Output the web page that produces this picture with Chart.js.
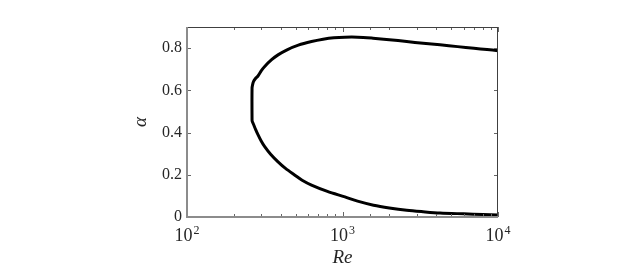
<!DOCTYPE html>
<html lang="en">
<head>
<meta charset="UTF-8">
<title>Neutral curve</title>
<script src="https://cdn.jsdelivr.net/npm/chart.js"></script>
<style>
  body { margin: 0; background: #fff; }
  #wrap { width: 623px; height: 271px; }
</style>
</head>
<body>
<div id="wrap"><canvas id="curveChart"></canvas></div>
<script>
// neutral curve, traced from the lower branch (right end) round the nose and back along the upper branch
const reValues = [10000, 8000, 6000, 4236, 3300, 2588, 2000, 1583, 1250, 1036, 800, 632, 550, 494, 430, 385, 345, 316, 300, 286, 276, 268, 263, 262,
                  262, 264, 268, 275, 286, 300, 316, 350, 385, 440, 520, 632, 750, 880, 1036, 1250, 1570, 2000, 2588, 3300, 4236, 5500, 7000, 8500, 10000];
const alphaValues = [0.010, 0.012, 0.015, 0.019, 0.025, 0.032, 0.043, 0.056, 0.075, 0.095, 0.121, 0.151, 0.174, 0.198, 0.230, 0.261, 0.297, 0.333, 0.360, 0.390, 0.415, 0.438, 0.452, 0.459,
                     0.610, 0.626, 0.642, 0.655, 0.668, 0.692, 0.713, 0.745, 0.768, 0.792, 0.814, 0.831, 0.842, 0.849, 0.852, 0.852, 0.847, 0.840, 0.831, 0.823, 0.816, 0.807, 0.799, 0.793, 0.788];

const xTickValues = [100, 1000, 10000];
const xTickBase = '10';
const xTickExponents = ['2', '3', '4'];
const yTickValues = [0, 0.2, 0.4, 0.6, 0.8];
const yTickLabels = ['0', '0.2', '0.4', '0.6', '0.8'];

const textColor = '#262626';
const serif = 'Liberation Serif';

// inward tick marks, the axes box and the 10^n labels
const framePlugin = {
    id: 'frame',
    afterDraw(chart) {
        const { ctx, chartArea: a, scales: { x, y } } = chart;
        ctx.save();
        ctx.lineWidth = 1;
        ctx.strokeStyle = '#666';
        const seg = (x1, y1, x2, y2) => {
            ctx.beginPath(); ctx.moveTo(x1, y1); ctx.lineTo(x2, y2); ctx.stroke();
        };
        x.ticks.forEach(t => {
            const px = Math.round(x.getPixelForValue(t.value)) + 0.5;
            const len = xTickValues.includes(t.value) ? 5 : 3;
            seg(px, a.bottom, px, a.bottom - len);
            seg(px, a.top, px, a.top + len);
        });
        y.ticks.forEach(t => {
            const py = Math.round(y.getPixelForValue(t.value)) + 0.5;
            seg(a.left, py, a.left + 4, py);
            seg(a.right, py, a.right - 4, py);
        });
        ctx.strokeStyle = '#404040';
        seg(a.left, a.top + 0.5, a.right, a.top + 0.5);
        seg(a.right - 0.5, a.top, a.right - 0.5, a.bottom);
        ctx.strokeStyle = '#8c8c8c';
        ctx.lineWidth = 2;
        seg(a.left, a.top, a.left, a.bottom + 1);
        seg(a.left - 1, a.bottom, a.right, a.bottom);

        // x tick labels with a raised exponent
        ctx.fillStyle = textColor;
        ctx.textBaseline = 'alphabetic';
        ctx.textAlign = 'left';
        xTickValues.forEach((v, i) => {
            const px = x.getPixelForValue(v);
            ctx.font = `18px "${serif}"`;
            const wb = ctx.measureText(xTickBase).width;
            ctx.font = `12px "${serif}"`;
            const we = ctx.measureText(xTickExponents[i]).width;
            const left = px - (wb + we + 1) / 2;
            ctx.font = `18px "${serif}"`;
            ctx.fillText(xTickBase, left, a.bottom + 24);
            ctx.font = `12px "${serif}"`;
            ctx.fillText(xTickExponents[i], left + wb + 1, a.bottom + 17);
        });
        ctx.restore();
    }
};

const ctx = document.getElementById('curveChart').getContext('2d');
const curveChart = new Chart(ctx, {
    type: 'scatter',
    data: {
        datasets: [{
            data: reValues.map((re, i) => ({ x: re, y: alphaValues[i] })),
            showLine: true,
            borderColor: '#000',
            borderWidth: 3,
            pointRadius: 0,
            tension: 0.3
        }]
    },
    options: {
        responsive: true,
        maintainAspectRatio: false,
        animation: false,
        devicePixelRatio: 1,
        layout: { padding: { left: 128, right: 125, top: 27, bottom: 0 } },
        plugins: { legend: { display: false }, tooltip: { enabled: false } },
        scales: {
            x: {
                type: 'logarithmic',
                min: 100,
                max: 10000,
                grid: { display: false, drawTicks: false },
                border: { display: false },
                afterFit: s => { s.height = 54; },
                ticks: {
                    autoSkip: false,
                    maxRotation: 0,
                    padding: 8,
                    font: { family: serif, size: 16 },
                    callback: () => ''
                },
                title: {
                    display: true,
                    text: 'Re',
                    color: textColor,
                    font: { family: serif, size: 19, style: 'italic' },
                    padding: { top: 0, bottom: 2 }
                }
            },
            y: {
                min: 0,
                max: 0.9,
                grid: { display: false, drawTicks: false },
                border: { display: false },
                afterFit: s => { s.width = 59; },
                ticks: {
                    stepSize: 0.2,
                    includeBounds: false,
                    padding: 5,
                    color: textColor,
                    font: { family: serif, size: 16 },
                    callback: v => {
                        const i = yTickValues.findIndex(t => Math.abs(t - v) < 1e-6);
                        return i >= 0 ? yTickLabels[i] : '';
                    }
                },
                title: {
                    display: true,
                    text: 'α',
                    color: textColor,
                    font: { family: serif, size: 19, style: 'italic' },
                    padding: { top: 2, bottom: 0 }
                }
            }
        }
    },
    plugins: [framePlugin]
});
</script>
</body>
</html>
